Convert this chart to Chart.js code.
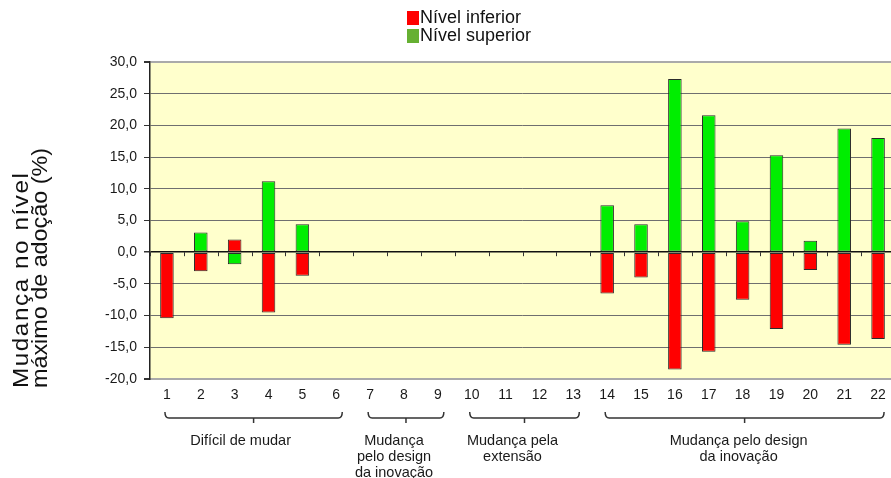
<!DOCTYPE html>
<html>
<head>
<meta charset="utf-8">
<script src="https://cdn.jsdelivr.net/npm/chart.js@4/dist/chart.umd.min.js"></script>
<style>
  html, body { margin: 0; padding: 0; background: #fff; overflow: hidden; }
  #wrap { position: relative; width: 900px; height: 478px; }
</style>
</head>
<body>
<div id="wrap"><canvas id="c"></canvas></div>
<script>
// Innovation cases, numbered 1–22
const categories = ['1','2','3','4','5','6','7','8','9','10','11','12','13','14','15','16','17','18','19','20','21','22'];

// Change in maximum adoption level (%), per case
const lowerLevel = [-10.4, -3.0, 2.0, -9.5, -3.7, null, null, null, null, null, null, null, null,
                    -6.5, -4.0, -18.5, -15.7, -7.5, -12.1, -2.8, -14.6, -13.7];
const upperLevel = [null, 3.1, -1.9, 11.2, 4.4, null, null, null, null, null, null, null, null,
                    7.4, 4.4, 27.3, 21.6, 4.9, 15.3, 1.8, 19.5, 18.0];

const seriesNames = ['Nível inferior', 'Nível superior'];

// Value axis range
const yMin = -20, yMax = 30, yStep = 5;

// Case groups shown under the category axis
const groupFirst  = ['1', '7', '10', '14'];
const groupLast   = ['6', '9', '13', '22'];
const groupLabels = [
  ['Difícil de mudar'],
  ['Mudança', 'pelo design', 'da inovação'],
  ['Mudança pela', 'extensão'],
  ['Mudança pelo design', 'da inovação']
];

const axisTitle = ['Mudança no nível', 'máximo de adoção (%)'];

const FONT = '"Liberation Sans", Arial, sans-serif';

const decorations = {
  id: 'decorations',
  beforeDraw(chart) {
    const { ctx, chartArea: a } = chart;
    ctx.save();
    ctx.fillStyle = '#ffffcc';
    ctx.fillRect(a.left, a.top, a.right - a.left, a.bottom - a.top);
    ctx.restore();
  },
  afterDraw(chart) {
    const { ctx, scales } = chart;
    const x = scales.x, y = scales.y;
    const step = x.getPixelForValue(1) - x.getPixelForValue(0);
    const zeroY = y.getPixelForValue(0);

    ctx.save();
    // small boundary ticks hanging below the zero line
    ctx.strokeStyle = '#333';
    ctx.lineWidth = 1;
    for (let i = 0; i <= categories.length; i++) {
      const px = Math.round(x.getPixelForValue(i) - step / 2) + 0.5;
      ctx.beginPath();
      ctx.moveTo(px, zeroY);
      ctx.lineTo(px, zeroY + 4);
      ctx.stroke();
    }

    // group brackets and their captions (captions sit a little left of the bracket centre)
    const captionShift = [-13, -12, -12, -6];
    ctx.strokeStyle = '#333';
    ctx.lineWidth = 1.5;
    ctx.fillStyle = '#1a1a1a';
    ctx.font = '14.5px ' + FONT;
    ctx.textAlign = 'center';
    ctx.textBaseline = 'middle';
    for (let g = 0; g < groupFirst.length; g++) {
      const l = x.getPixelForValue(categories.indexOf(groupFirst[g])) - 2;
      const r = x.getPixelForValue(categories.indexOf(groupLast[g])) + 6;
      const cx = (l + r) / 2;
      const top = 412, mid = 418;
      ctx.beginPath();
      ctx.moveTo(l, top);
      ctx.quadraticCurveTo(l, mid, l + 4, mid);
      ctx.lineTo(r - 4, mid);
      ctx.quadraticCurveTo(r, mid, r, top);
      ctx.stroke();
      ctx.beginPath();
      ctx.moveTo(cx, mid);
      ctx.lineTo(cx, mid + 5);
      ctx.stroke();
      groupLabels[g].forEach((t, k) => ctx.fillText(t, cx + captionShift[g], 441 + k * 16));
    }

    // legend, stacked vertically
    const legendColors = ['#ff0000', '#66b032'];
    ctx.font = '18px ' + FONT;
    ctx.textAlign = 'left';
    ctx.textBaseline = 'middle';
    chart.data.datasets.forEach((ds, i) => {
      const top = 11 + i * 18;
      ctx.fillStyle = legendColors[i];
      ctx.fillRect(407, top, 12, 14);
      ctx.fillStyle = '#111';
      ctx.fillText(ds.label, 420, top + 7.5);
    });

    // rotated value-axis title: slightly widened glyphs, then spaced out to its run length
    const runs = [215, 240];
    const widen = 1.1;
    ctx.font = '22px ' + FONT;
    ctx.fillStyle = '#111';
    ctx.textAlign = 'left';
    ctx.textBaseline = 'alphabetic';
    axisTitle.forEach((t, k) => {
      ctx.save();
      ctx.letterSpacing = '0px';
      const w = ctx.measureText(t).width;
      const n = Array.from(t).length;
      const sx = Math.min(widen, runs[k] / w);
      const gap = Math.max(0, (runs[k] / sx - w) / (n - 1));
      ctx.letterSpacing = gap.toFixed(2) + 'px';
      ctx.translate(28 + k * 19, 388);
      ctx.rotate(-Math.PI / 2);
      ctx.scale(sx, 1);
      ctx.fillText(t, 0, 0);
      ctx.restore();
    });
    ctx.restore();
  }
};

new Chart(document.getElementById('c'), {
  type: 'bar',
  data: {
    labels: categories,
    datasets: [
      { label: seriesNames[0], data: lowerLevel, backgroundColor: '#ff0000' },
      { label: seriesNames[1], data: upperLevel, backgroundColor: '#00ee00' }
    ].map(d => Object.assign(d, {
      borderColor: '#2b2b2b', borderWidth: 1, borderSkipped: false,
      barPercentage: 0.4, categoryPercentage: 1
    }))
  },
  options: {
    responsive: true,
    maintainAspectRatio: false,
    animation: false,
    devicePixelRatio: 1,
    layout: { padding: { top: 62, right: 5, bottom: 0, left: 0 } },
    plugins: { legend: { display: false }, tooltip: { enabled: false } },
    scales: {
      x: {
        stacked: true,
        afterFit(s) { s.height = 99; },
        grid: { display: false, drawTicks: false },
        border: { display: true, color: '#aaaaaa', width: 2 },
        ticks: { padding: 8, color: '#1a1a1a', font: { family: FONT, size: 14 }, maxRotation: 0, autoSkip: false }
      },
      y: {
        stacked: true,
        min: yMin, max: yMax,
        afterFit(s) { s.width = 150; },
        border: { display: true, color: '#222', width: 1.5 },
        grid: {
          tickLength: 6,
          tickColor: '#333',
          color: c => (c.tick.value === 0 ? '#111' : (c.tick.value === yMax || c.tick.value === yMin) ? '#aaaaaa' : '#6f6f6f'),
          lineWidth: c => (c.tick.value === 0 ? 1.5 : (c.tick.value === yMax || c.tick.value === yMin) ? 2 : 1)
        },
        ticks: {
          stepSize: yStep,
          padding: 7,
          color: '#1a1a1a',
          font: { family: FONT, size: 14 },
          callback: v => v.toFixed(1).replace('.', ',')
        }
      }
    }
  },
  plugins: [decorations]
});
</script>
</body>
</html>
